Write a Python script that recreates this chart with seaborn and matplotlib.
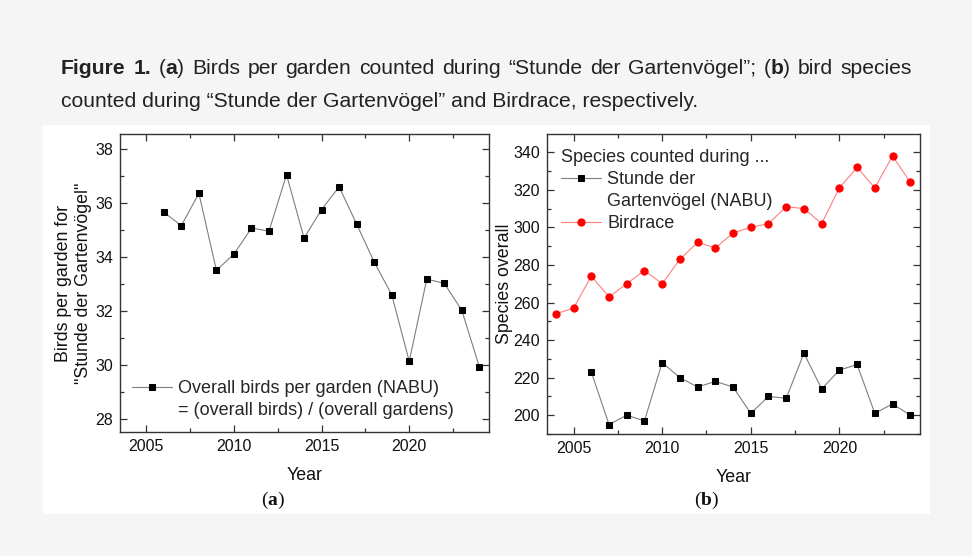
import matplotlib
matplotlib.use("Agg")
import matplotlib.pyplot as plt
from matplotlib.patches import Rectangle
from matplotlib.lines import Line2D
from matplotlib.ticker import AutoMinorLocator
import seaborn as sns
import pandas as pd

# ---------------- data ----------------
years_a = list(range(2006, 2025))
birds_per_garden = [35.65, 35.15, 36.35, 33.49, 34.10, 35.06, 34.95, 37.04, 34.69,
                    35.75, 36.59, 35.21, 33.80, 32.59, 30.12, 33.17, 33.01, 32.01, 29.91]

years_nabu = list(range(2006, 2025))
species_nabu = [223, 195, 200, 197, 228, 220, 215, 218, 215, 201, 210, 209, 233,
                214, 224, 227, 201, 206, 200]

years_birdrace = list(range(2004, 2025))
species_birdrace = [254, 257, 274, 263, 270, 277, 270, 283, 292, 289, 297, 300, 302,
                    311, 310, 302, 321, 332, 321, 338, 324]

xticks = [2005, 2010, 2015, 2020]
yticks_a = [28, 30, 32, 34, 36, 38]
yticks_b = [200, 220, 240, 260, 280, 300, 320, 340]

df_a = pd.DataFrame({"Year": years_a, "Birds": birds_per_garden})
df_n = pd.DataFrame({"Year": years_nabu, "Species": species_nabu})
df_r = pd.DataFrame({"Year": years_birdrace, "Species": species_birdrace})

# ---------------- style ----------------
sns.set_theme(style="ticks")
plt.rcParams["font.family"] = ["Liberation Sans", "DejaVu Sans"]
plt.rcParams["mathtext.fontset"] = "custom"
plt.rcParams["mathtext.rm"] = "Liberation Serif"
plt.rcParams["mathtext.bf"] = "Liberation Serif:bold"

W, H = 972, 556
fig = plt.figure(figsize=(W / 100, H / 100), dpi=100, facecolor="#f5f5f5")
fig.patches.append(Rectangle((43 / W, 1 - 514 / H), (930 - 43) / W, (514 - 125) / H,
                             transform=fig.transFigure, facecolor="white",
                             edgecolor="none", zorder=-10))

def px_axes(l, t, r, b):
    return [l / W, 1 - b / H, (r - l) / W, (b - t) / H]

ax1 = fig.add_axes(px_axes(120, 134, 489, 432))
ax2 = fig.add_axes(px_axes(547, 134, 920, 434))

grey_line = "#7f7f7f"
red_line = "#ff7f7f"

sns.lineplot(data=df_a, x="Year", y="Birds", ax=ax1, color=grey_line, linewidth=0.8,
             marker="s", markersize=4.6, markerfacecolor="black",
             markeredgecolor="black", label="Overall birds per garden (NABU)", legend=False)

sns.lineplot(data=df_n, x="Year", y="Species", ax=ax2, color=grey_line, linewidth=0.8,
             marker="s", markersize=4.6, markerfacecolor="black",
             markeredgecolor="black", label="Stunde der", legend=False)
sns.lineplot(data=df_r, x="Year", y="Species", ax=ax2, color=red_line, linewidth=0.8,
             marker="o", markersize=5.2, markerfacecolor="#ff0000",
             markeredgecolor="#ff0000", label="Birdrace", legend=False)

for ax in (ax1, ax2):
    ax.set_xlim(2003.5, 2024.55)
    ax.set_xticks(xticks)
    ax.xaxis.set_minor_locator(AutoMinorLocator(2))
    ax.yaxis.set_minor_locator(AutoMinorLocator(2))
    ax.tick_params(which="both", direction="in", top=True, right=True,
                   color="#333333", width=0.9)
    ax.tick_params(which="major", length=5, labelsize=11.5, pad=5, labelcolor="#111111")
    ax.tick_params(which="minor", length=3)
    for s in ax.spines.values():
        s.set_color("#333333")
        s.set_linewidth(1.0)
    ax.set_facecolor("white")
    ax.set_xlabel("Year", fontsize=12.8, color="#111111")

ax1.set_ylim(27.5, 38.55)
ax1.set_yticks(yticks_a)
ax2.set_ylim(190, 349.7)
ax2.set_yticks(yticks_b)

ax1.set_ylabel('Birds per garden for\n"Stunde der Gartenvögel"', fontsize=12.8,
               color="#111111", linespacing=1.25)
ax2.set_ylabel("Species overall", fontsize=12.8, color="#111111")
ax1.yaxis.set_label_coords(-0.075, 0.5)
ax2.yaxis.set_label_coords(-0.09, 0.5)
ax1.xaxis.set_label_coords(0.5, -0.118)
ax2.xaxis.set_label_coords(0.5, -0.118)

# legends
blank = Line2D([], [], linestyle="none")
h1 = ax1.get_lines()[0]
ax1.legend(handles=[h1, blank],
           labels=["Overall birds per garden (NABU)", "= (overall birds) / (overall gardens)"],
           loc="upper left", bbox_to_anchor=(0.032, 0.175), frameon=False,
           fontsize=13, borderpad=0, borderaxespad=0, handlelength=2.2,
           handletextpad=0.37, labelspacing=0.27)

lines2 = ax2.get_lines()
ax2.legend(handles=[lines2[0], blank, lines2[1]],
           labels=["Stunde der", "Gartenvögel (NABU)", "Birdrace"],
           title="Species counted during ...", title_fontsize=13, alignment="left",
           loc="upper left", bbox_to_anchor=(0.037, 0.95), frameon=False,
           fontsize=13, borderpad=0, borderaxespad=0, handlelength=2.2,
           handletextpad=0.37, labelspacing=0.28)

# panel labels
fig.text(272.7 / W, 1 - 500 / H, r"($\mathbf{a}$)", ha="center", va="center",
         fontsize=14, family="Liberation Serif", color="#111111")
fig.text(706.7 / W, 1 - 500 / H, r"($\mathbf{b}$)", ha="center", va="center",
         fontsize=14, family="Liberation Serif", color="#111111")

# ---------------- caption ----------------
cap_color = "#222222"
line2_text = "counted during \u201cStunde der Gartenv\u00f6gel\u201d and Birdrace, respectively."
renderer = fig.canvas.get_renderer()

probe = fig.text(0, 0, line2_text, fontsize=14)
w2 = probe.get_window_extent(renderer).width
probe.remove()
cap_fs = 14 * (704 - 61) / w2

line1_words = [
    [("Figure", "bold")], [("1.", "bold")],
    [("(", "normal"), ("a", "bold"), (")", "normal")],
    [("Birds", "normal")], [("per", "normal")], [("garden", "normal")],
    [("counted", "normal")], [("during", "normal")],
    [("\u201cStunde", "normal")], [("der", "normal")], [("Gartenv\u00f6gel\u201d;", "normal")],
    [("(", "normal"), ("b", "bold"), (")", "normal")],
    [("bird", "normal")], [("species", "normal")],
]

def run_width(s, weight):
    t = fig.text(0, 0, s, fontsize=cap_fs, weight=weight)
    w = t.get_window_extent(renderer).width
    t.remove()
    return w

word_widths = [sum(run_width(s, wt) for s, wt in word) for word in line1_words]
x_start, x_end = 61, 912
gap = (x_end - x_start - sum(word_widths)) / (len(line1_words) - 1)
x = x_start
y1 = 1 - 74.3 / H
for word, ww in zip(line1_words, word_widths):
    xx = x
    for s, wt in word:
        fig.text(xx / W, y1, s, fontsize=cap_fs, weight=wt, color=cap_color,
                 ha="left", va="baseline")
        xx += run_width(s, wt)
    x += ww + gap

fig.text(61 / W, 1 - 106.7 / H, line2_text, fontsize=cap_fs, color=cap_color,
         ha="left", va="baseline")

fig.savefig("out.png", dpi=100, facecolor=fig.get_facecolor())
